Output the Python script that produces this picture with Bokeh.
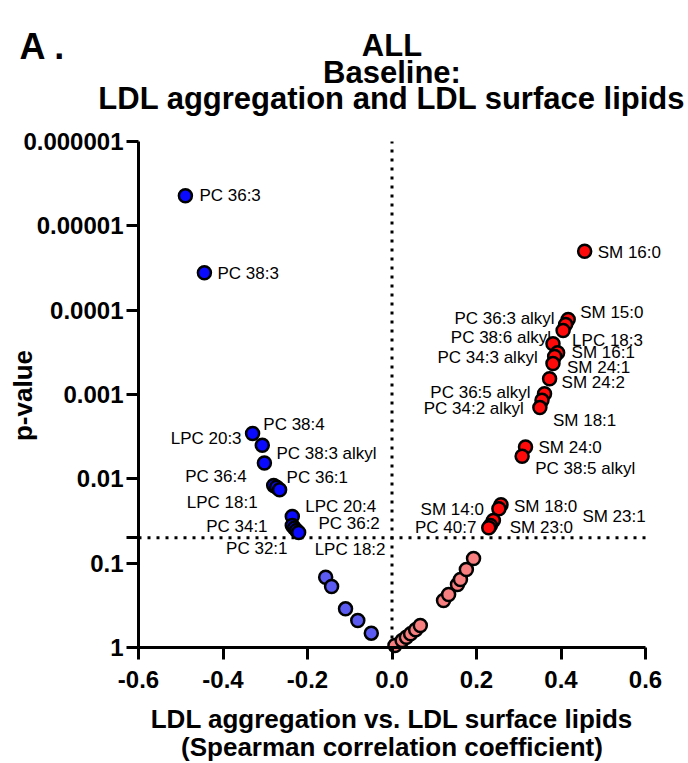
import math
from bokeh.plotting import figure
from bokeh.models import Range1d, FixedTicker, ColumnDataSource, NumeralTickFormatter, LinearAxis, LogAxis
from bokeh.embed import file_html
from bokeh.resources import INLINE
from bokeh.core.properties import value

FONT = "Liberation Sans"

# ---- data (Spearman r, p-value) ----
neg_sig_names = ["PC 36:3", "PC 38:3", "LPC 20:3", "PC 38:4", "PC 38:3 alkyl", "PC 36:4", "LPC 18:1",
                 "PC 36:1", "LPC 20:4", "PC  34:1", "PC 36:2", "PC 32:1", "LPC 18:2"]
neg_sig_r = [-0.489, -0.444, -0.330, -0.307, -0.302, -0.280, -0.273, -0.266, -0.236, -0.236, -0.231, -0.226, -0.221]
neg_sig_p = [4.4e-6, 3.6e-5, 0.0029, 0.0040, 0.0065, 0.0120, 0.0126, 0.0135, 0.0279, 0.0357, 0.0384, 0.0409, 0.0433]

neg_ns_r = [-0.157, -0.143, -0.110, -0.081, -0.049]
neg_ns_p = [0.147, 0.189, 0.348, 0.479, 0.676]

pos_ns_r = [0.007, 0.024, 0.034, 0.044, 0.056, 0.067, 0.122, 0.134, 0.155, 0.162, 0.176, 0.193]
pos_ns_p = [0.946, 0.826, 0.755, 0.689, 0.617, 0.548, 0.277, 0.235, 0.179, 0.156, 0.119, 0.088]

pos_sig_names = ["SM 16:0", "SM 15:0", "PC 36:3 alkyl", "LPC 18:3", "PC 38:6 alkyl", "SM 16:1", "PC 34:3 alkyl",
                 "SM 24:1", "SM 24:2", "PC 36:5 alkyl", "SM 18:1", "PC 34:2 alkyl", "SM 24:0", "PC 38:5 alkyl",
                 "SM 18:0", "SM 14:0", "SM 23:1", "PC 40:7", "SM 23:0"]
pos_sig_r = [0.456, 0.417, 0.411, 0.405, 0.381, 0.392, 0.385, 0.381, 0.373, 0.361, 0.355, 0.350, 0.316, 0.308,
             0.258, 0.253, 0.240, 0.233, 0.229]
pos_sig_p = [2.0e-5, 1.29e-4, 1.48e-4, 1.74e-4, 2.5e-4, 3.2e-4, 3.55e-4, 4.3e-4, 6.5e-4, 9.8e-4, 1.17e-3, 1.43e-3,
             4.2e-3, 5.4e-3, 0.0203, 0.0226, 0.0312, 0.0357, 0.038]

x_ticks = [-0.6, -0.4, -0.2, 0.0, 0.2, 0.4, 0.6]
y_ticks = [1e-6, 1e-5, 1e-4, 1e-3, 1e-2, 0.05, 0.1, 1.0]
y_tick_labels = ["0.000001", "0.00001", "0.0001", "0.001", "0.01", "", "0.1", "1"]
p_threshold = 0.05

title_lines = ["ALL", "Baseline:", "LDL aggregation and LDL surface lipids"]
panel_tag = "A ."
x_label_lines = ["LDL aggregation vs. LDL surface lipids", "(Spearman correlation coefficient)"]
y_label = "p-value"

# ---- label placement (screen px offsets from each point) ----
neg_dx = [14, 13, -11, 1, 12, -27, -19, 7, 13, -20, 24, -9, 16]
neg_dy = [0, 1, 5, -21, -10, -9, 15, -12, -10, 1, -5, 18, 17]
neg_al = ["left", "left", "right", "left", "left", "right", "right", "left", "left", "right", "left", "right", "left"]
pos_dx = [13, 12, -11, 9, -2, 14, -17, 14, 12, -14, 11, -16, 13, 13, 13, -15, 89, -14, 21]
pos_dy = [1, -7, -6, 10, -6, 0, 1, 4, 4, -1, 20, 1, 0, 12, 2, 1, -4, 2, 0]
pos_al = ["left", "left", "right", "left", "right", "left", "right", "left", "left", "right", "left", "right",
          "left", "left", "left", "right", "left", "right", "left"]

# ---- geometry: the frame fills the canvas; axes are placed at fixed locations ----
W, H = 688, 763
AX_L, AX_R, AX_T, AX_B = 138, 645, 141, 647     # pixel extent of the plotted axes
X_MIN, X_MAX = x_ticks[0], x_ticks[-1]
P_MIN, P_MAX = y_ticks[0], y_ticks[-1]
sx = (X_MAX - X_MIN) / (AX_R - AX_L)
sl = (math.log10(P_MAX) - math.log10(P_MIN)) / (AX_B - AX_T)
x_start = X_MIN - AX_L * sx
x_end = X_MAX + (W - AX_R) * sx
log_top = math.log10(P_MIN) - AX_T * sl
log_bot = math.log10(P_MAX) + (H - AX_B) * sl

def px2x(px):
    return x_start + px * sx

def py2y(py):
    return 10 ** (log_top + py * sl)

p = figure(width=W, height=H, min_border=0,
           x_range=Range1d(x_start, x_end), y_range=Range1d(10 ** log_bot, 10 ** log_top),
           y_axis_type="log", x_axis_location=None, y_axis_location=None,
           output_backend="svg", toolbar_location=None, outline_line_color=None)
p.grid.visible = False

xaxis = LinearAxis(fixed_location=P_MAX, bounds=(X_MIN, X_MAX))
yaxis = LogAxis(fixed_location=X_MIN, bounds=(P_MIN, P_MAX))
p.add_layout(xaxis, "below")
p.add_layout(yaxis, "left")

for ax in (xaxis, yaxis):
    ax.axis_line_width = 3
    ax.major_tick_line_width = 3
    ax.major_tick_out = 12
    ax.major_tick_in = 0
    ax.minor_tick_line_color = None
    ax.major_label_text_font = FONT
    ax.major_label_text_font_style = "bold"
    ax.major_label_text_font_size = "24px"
    ax.major_label_text_color = "black"

xaxis.ticker = FixedTicker(ticks=x_ticks, minor_ticks=[])
xaxis.formatter = NumeralTickFormatter(format="0.0")
xaxis.major_label_standoff = 11
yaxis.ticker = FixedTicker(ticks=y_ticks, minor_ticks=[])
yaxis.major_label_overrides = {t: s for t, s in zip(y_ticks, y_tick_labels)}
yaxis.major_label_standoff = 3

# dotted reference lines
dot = dict(line_color="black", line_width=3, line_dash="3 6")
p.segment(x0=[0], y0=[P_MAX], x1=[0], y1=[P_MIN], **dot)
p.segment(x0=[X_MIN], y0=[p_threshold], x1=[X_MAX], y1=[p_threshold], **dot)

# point labels
def add_labels(names, r, pv, dx, dy, al):
    for align in ("left", "right"):
        idx = [i for i in range(len(names)) if al[i] == align]
        src = ColumnDataSource(dict(x=[r[i] for i in idx], y=[pv[i] for i in idx],
                                    t=[names[i] for i in idx], dx=[dx[i] for i in idx], dy=[dy[i] for i in idx]))
        p.text(x="x", y="y", text="t", x_offset="dx", y_offset="dy", source=src,
               text_align=align, text_baseline="middle", text_font=value(FONT),
               text_font_size="17px", text_color="black")

add_labels(neg_sig_names, neg_sig_r, neg_sig_p, neg_dx, neg_dy, neg_al)
add_labels(pos_sig_names, pos_sig_r, pos_sig_p, pos_dx, pos_dy, pos_al)

# points
kw = dict(size=13, line_color="black", line_width=2.5)
p.scatter(neg_ns_r, neg_ns_p, fill_color="#5B5BF2", **kw)
p.scatter(pos_ns_r, pos_ns_p, fill_color="#F77F7F", **kw)
p.scatter(neg_sig_r, neg_sig_p, fill_color="#0A0AFF", **kw)
p.scatter(pos_sig_r, pos_sig_p, fill_color="#FF0A0A", **kw)

# titles and axis titles (placed in canvas pixels)
bold = dict(text_font=value(FONT), text_font_style="bold", text_color="black", text_baseline="middle")
p.text(x=[px2x(19)], y=[py2y(46)], text=[panel_tag], text_align="left", text_font_size="36px", **bold)
cx = (AX_L + AX_R) / 2
p.text(x=[px2x(cx)] * 3, y=[py2y(v) for v in (45, 72, 98)], text=title_lines,
       text_align="center", text_font_size="31px", **bold)
p.text(x=[px2x(cx)] * 2, y=[py2y(v) for v in (718, 746)], text=x_label_lines,
       text_align="center", text_font_size="26px", **bold)
p.text(x=[px2x(22)], y=[py2y(395)], text=[y_label], angle=math.pi / 2,
       text_align="center", text_font_size="26px", **bold)

open("out.html", "w").write(file_html(p, INLINE))
